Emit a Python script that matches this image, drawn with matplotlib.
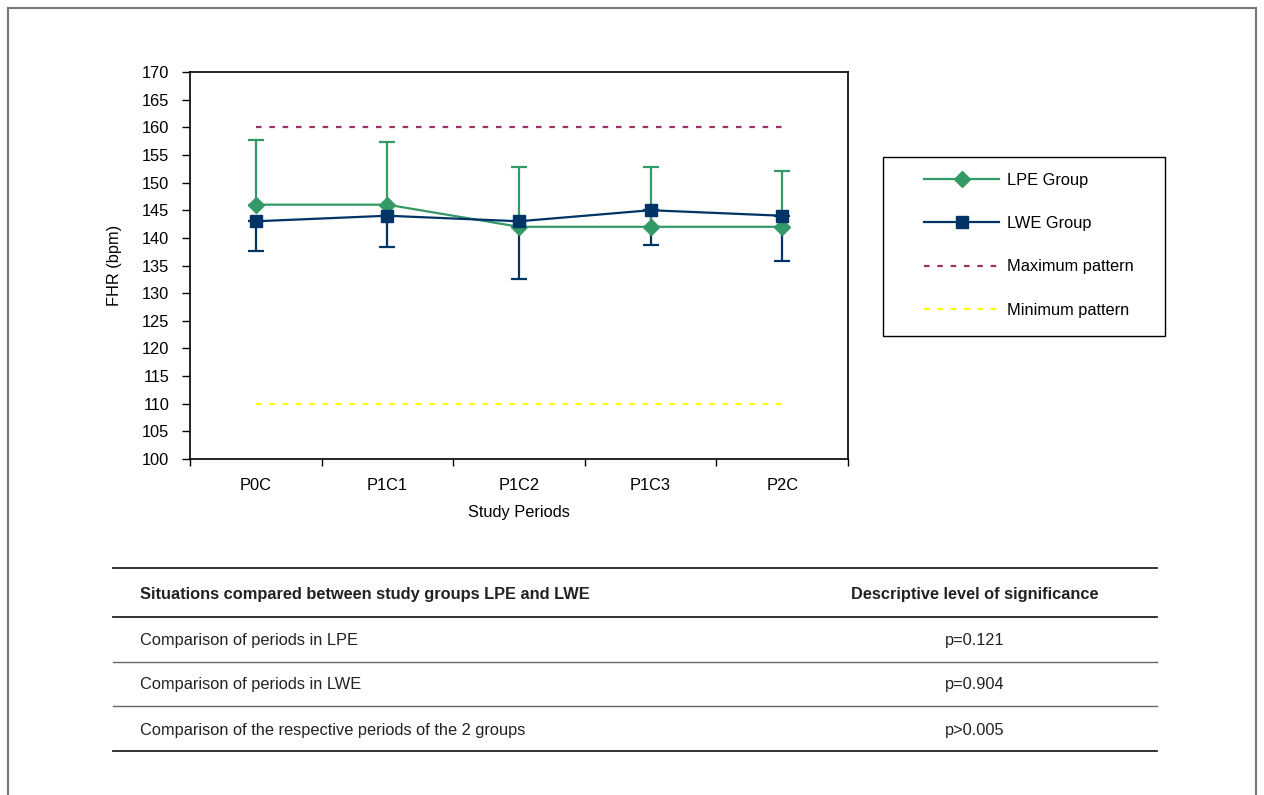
import matplotlib.pyplot as plt
from matplotlib.lines import Line2D
from matplotlib.patches import Rectangle

plt.rcParams["font.family"] = ["Liberation Sans", "DejaVu Sans"]

# data
periods = ["P0C", "P1C1", "P1C2", "P1C3", "P2C"]
lpe_mean = [146, 146, 142, 142, 142]
lpe_upper = [157.7, 157.3, 152.8, 152.8, 152.1]
lwe_mean = [143, 144, 143, 145, 144]
lwe_lower = [137.6, 138.3, 132.6, 138.7, 135.8]
max_pattern = 160
min_pattern = 110

table_header = ["Situations compared between study groups LPE and LWE",
                "Descriptive level of significance"]
table_rows = ["Comparison of periods in LPE",
              "Comparison of periods in LWE",
              "Comparison of the respective periods of the 2 groups"]
table_pvalues = ["p=0.121", "p=0.904", "p>0.005"]

GREEN = "#339966"
NAVY = "#003366"
MAROON = "#993366"
YELLOW = "#FFFF00"
FS = 11.8

W, H = 1264, 795
fig = plt.figure(figsize=(W / 100, H / 100), dpi=100)

def fx(px):
    return px / W

def fy(py):
    return 1 - py / H

ax = fig.add_axes([fx(190), fy(459), fx(848) - fx(190), fy(72) - fy(459)])
x = list(range(len(periods)))

# pattern lines
ax.plot(x, [max_pattern] * len(x), color=MAROON, lw=1.6, dashes=(2.5, 3.5), zorder=2)
ax.plot(x, [min_pattern] * len(x), color=YELLOW, lw=1.6, dashes=(2.5, 3.5), zorder=2)

# error bars first (LWE down only, LPE up only)
lwe_err = [[m - l for m, l in zip(lwe_mean, lwe_lower)], [0] * len(x)]
ax.errorbar(x, lwe_mean, yerr=lwe_err, fmt="none", ecolor=NAVY,
            capsize=5.5, capthick=1.6, elinewidth=1.6, zorder=3)
lpe_err = [[0] * len(x), [u - m for m, u in zip(lpe_mean, lpe_upper)]]
ax.errorbar(x, lpe_mean, yerr=lpe_err, fmt="none", ecolor=GREEN,
            capsize=5.5, capthick=1.6, elinewidth=1.6, zorder=3)

# series lines and markers
ax.plot(x, lpe_mean, color=GREEN, lw=1.6, marker="D", markersize=8, zorder=4)
ax.plot(x, lwe_mean, color=NAVY, lw=1.6, marker="s", markersize=9, zorder=5)

ax.set_xlim(-0.5, len(x) - 0.5)
ax.set_ylim(100, 170)
ax.set_yticks(range(100, 171, 5))
ax.set_xticks([i - 0.5 for i in range(len(x) + 1)])
ax.set_xticklabels([])
ax.set_xticks(x, minor=True)
ax.set_xticklabels(periods, minor=True)
ax.tick_params(axis="x", which="major", length=5, width=1, direction="out")
ax.tick_params(axis="x", which="minor", length=0, pad=14, labelsize=FS)
ax.tick_params(axis="y", length=6, width=1, direction="out", pad=9, labelsize=FS)
for s in ax.spines.values():
    s.set_linewidth(1.2)
ax.set_ylabel("FHR (bpm)", fontsize=FS, labelpad=14)
ax.set_xlabel("Study Periods", fontsize=FS, labelpad=8)

# legend
handles = [
    Line2D([], [], color=GREEN, lw=1.6, marker="D", markersize=8),
    Line2D([], [], color=NAVY, lw=1.6, marker="s", markersize=9),
    Line2D([], [], color=MAROON, lw=1.6, dashes=(2.5, 3.5)),
    Line2D([], [], color=YELLOW, lw=1.6, dashes=(2.5, 3.5)),
]
labels = ["LPE Group", "LWE Group", "Maximum pattern", "Minimum pattern"]
fig.legend(handles, labels, loc="upper left", bbox_to_anchor=(fx(924), fy(173)),
           fontsize=FS, frameon=False, handlelength=4.6, labelspacing=1.72,
           borderpad=0, handletextpad=0.45, borderaxespad=0)
fig.add_artist(Rectangle((fx(883), fy(336)), fx(1165) - fx(883), fy(157) - fy(336),
                         transform=fig.transFigure, fill=False, edgecolor="black", lw=1.0))

# table
line_specs = [(568, "#222222", 1.3), (617, "#222222", 1.3), (662, "#666666", 1.0),
              (706, "#666666", 1.0), (751, "#222222", 1.3)]
for yy, c, lw in line_specs:
    fig.add_artist(Line2D([fx(113), fx(1157)], [fy(yy), fy(yy)], color=c, lw=lw))
fig.text(fx(140), fy(595), table_header[0], fontsize=FS, fontweight="bold",
         va="center", ha="left", color="#222222")
fig.text(fx(975), fy(595), table_header[1], fontsize=FS, fontweight="bold",
         va="center", ha="center", color="#222222")
for i, (r, p) in enumerate(zip(table_rows, table_pvalues)):
    yy = 640 + 45 * i
    fig.text(fx(140), fy(yy), r, fontsize=FS, va="center", ha="left", color="#222222")
    fig.text(fx(975), fy(yy), p, fontsize=FS, va="center", ha="center", color="#222222")

# outer frame (no bottom edge)
frame = "#777777"
fig.add_artist(Line2D([fx(8), fx(8)], [0, fy(8)], color=frame, lw=1.5))
fig.add_artist(Line2D([fx(8), fx(1256)], [fy(8), fy(8)], color=frame, lw=1.5))
fig.add_artist(Line2D([fx(1256), fx(1256)], [fy(8), 0], color=frame, lw=1.5))

fig.savefig("out.png", dpi=100)
